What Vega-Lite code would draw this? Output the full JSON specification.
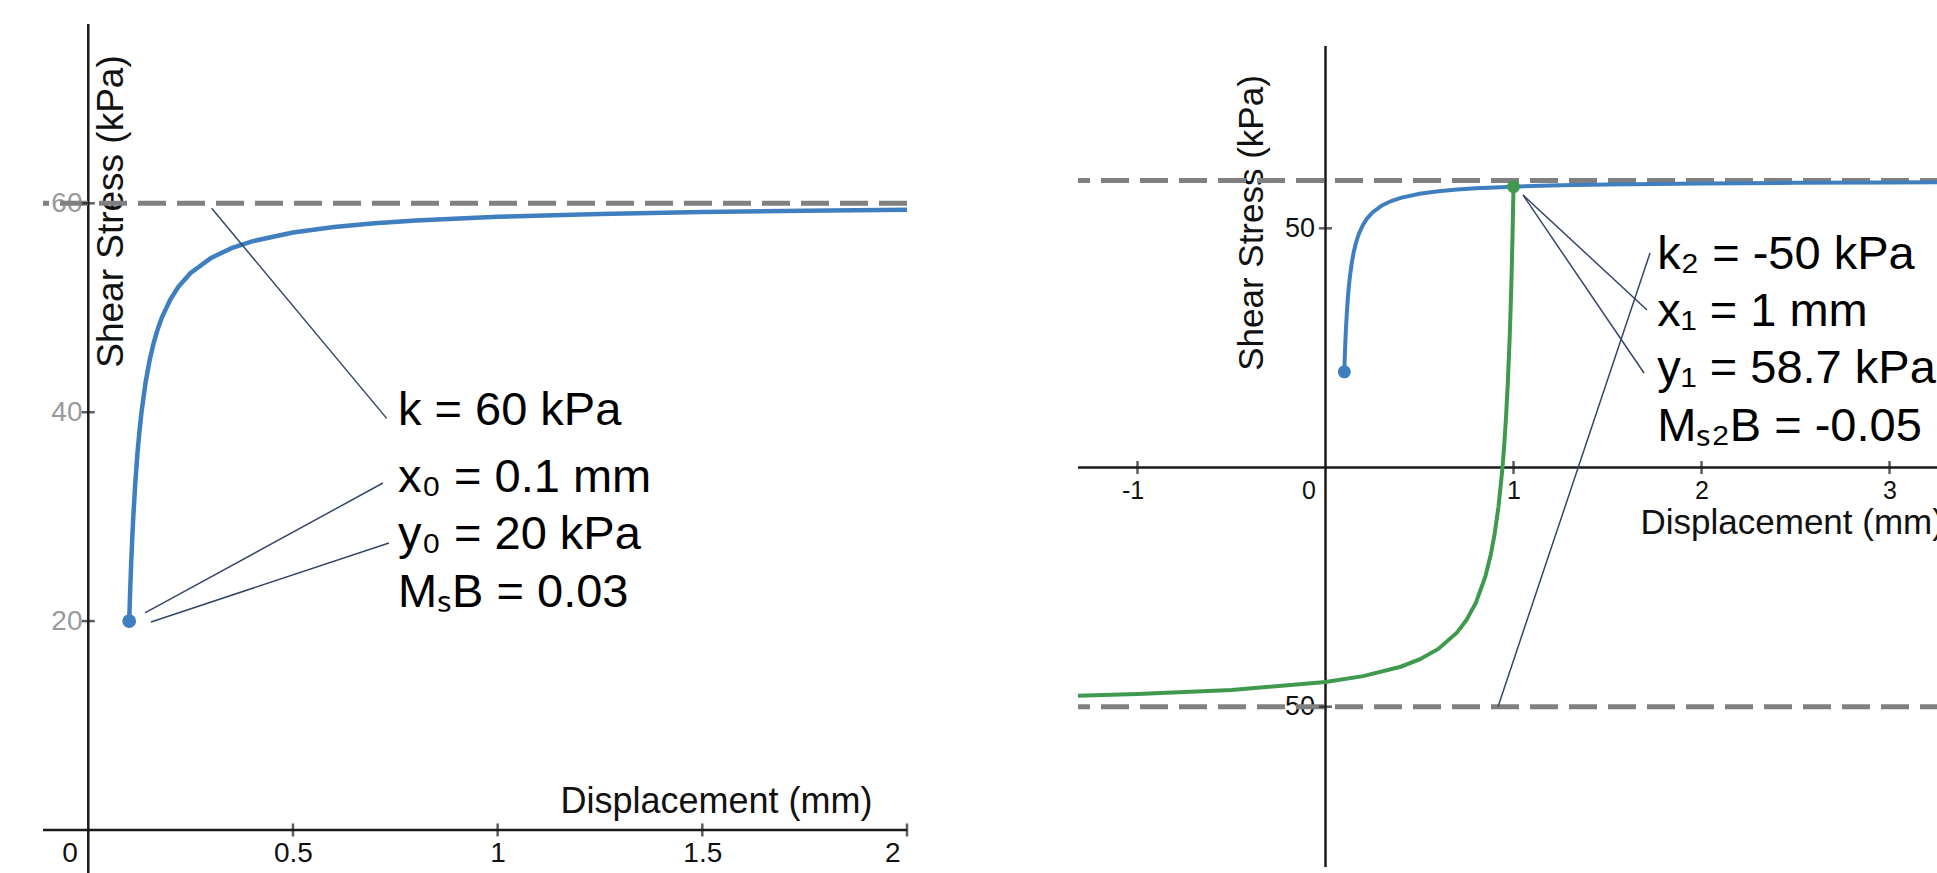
{
  "$schema": "https://vega.github.io/schema/vega-lite/v6.json",
  "background": "white",
  "padding": {"left": 43, "top": 24, "right": 0, "bottom": 0},
  "autosize": {"type": "pad"},
  "spacing": 171,
  "bounds": "flush",
  "config": {
    "view": {"stroke": null},
    "font": "Liberation Sans",
    "axis": {"labelFont": "Liberation Sans", "titleFont": "Liberation Sans", "titleFontWeight": "normal", "grid": false, "domain": false, "ticks": false, "labelOverlap": false, "labelFlush": false, "labelBound": false, "labelExpr": "datum.value + ''"}
  },
  "datasets": {
    "zeroLines": [{"panel": "A", "y": 0}, {"panel": "B", "y": 0}],
    "yAxisLines": [{"panel": "A", "x": 0, "y": -4.12, "y2": 77.17}, {"panel": "B", "x": 0, "y": -83.5, "y2": 88.1}],
    "asymptotes": [{"panel": "A", "y": 60}, {"panel": "B", "y": 60}, {"panel": "B", "y": -50}],
    "tickMarks": [
      {"panel": "A", "dir": "x", "x": 0.5, "y": 0}, {"panel": "A", "dir": "x", "x": 1, "y": 0}, {"panel": "A", "dir": "x", "x": 1.5, "y": 0}, {"panel": "A", "dir": "x", "x": 2, "y": 0},
      {"panel": "A", "dir": "y", "x": 0, "y": 20}, {"panel": "A", "dir": "y", "x": 0, "y": 40}, {"panel": "A", "dir": "y", "x": 0, "y": 60},
      {"panel": "B", "dir": "x", "x": -1, "y": 0}, {"panel": "B", "dir": "x", "x": 1, "y": 0}, {"panel": "B", "dir": "x", "x": 2, "y": 0}, {"panel": "B", "dir": "x", "x": 3, "y": 0},
      {"panel": "B", "dir": "y", "x": 0, "y": 50}, {"panel": "B", "dir": "y", "x": 0, "y": -50}
    ],
    "tau1": [
      {"x": 0.1, "y": 20}, {"x": 0.1025, "y": 23.08}, {"x": 0.105, "y": 25.71}, {"x": 0.1075, "y": 28.0}, {"x": 0.11, "y": 30.0},
      {"x": 0.115, "y": 33.33}, {"x": 0.12, "y": 36.0}, {"x": 0.125, "y": 38.18}, {"x": 0.13, "y": 40.0}, {"x": 0.14, "y": 42.86},
      {"x": 0.15, "y": 45.0}, {"x": 0.16, "y": 46.67}, {"x": 0.17, "y": 48.0}, {"x": 0.18, "y": 49.09}, {"x": 0.2, "y": 50.77},
      {"x": 0.22, "y": 52.0}, {"x": 0.25, "y": 53.33}, {"x": 0.3, "y": 54.78}, {"x": 0.35, "y": 55.71}, {"x": 0.4, "y": 56.36},
      {"x": 0.5, "y": 57.21}, {"x": 0.6, "y": 57.74}, {"x": 0.7, "y": 58.1}, {"x": 0.8, "y": 58.36}, {"x": 1.0, "y": 58.71},
      {"x": 1.25, "y": 58.98}, {"x": 1.5, "y": 59.16}, {"x": 1.75, "y": 59.29}, {"x": 2.0, "y": 59.38}, {"x": 2.5, "y": 59.51},
      {"x": 3.0, "y": 59.59}, {"x": 3.32, "y": 59.63}
    ],
    "tau2": [
      {"x": -1.32, "y": -47.72}, {"x": -1.0, "y": -47.35}, {"x": -0.5, "y": -46.49}, {"x": 0.0, "y": -44.82}, {"x": 0.2, "y": -43.61},
      {"x": 0.4, "y": -41.64}, {"x": 0.5, "y": -40.12}, {"x": 0.6, "y": -37.92}, {"x": 0.7, "y": -34.47}, {"x": 0.75, "y": -31.88},
      {"x": 0.8, "y": -28.26}, {"x": 0.85, "y": -22.82}, {"x": 0.88, "y": -18.03}, {"x": 0.9, "y": -13.77}, {"x": 0.92, "y": -8.19},
      {"x": 0.94, "y": -0.59}, {"x": 0.95, "y": 4.35}, {"x": 0.96, "y": 10.39}, {"x": 0.97, "y": 17.94}, {"x": 0.98, "y": 27.64},
      {"x": 0.985, "y": 33.62}, {"x": 0.99, "y": 40.58}, {"x": 0.995, "y": 48.82}, {"x": 1.0, "y": 58.7}
    ],
    "startPoints": [
      {"panel": "A", "series": "tau1", "x": 0.1, "y": 20},
      {"panel": "B", "series": "tau1", "x": 0.1, "y": 20},
      {"panel": "B", "series": "tau2", "x": 1, "y": 58.7}
    ],
    "leaders": [
      {"panel": "A", "x": 0.3014, "y": 59.52, "x2": 0.7289, "y2": 39.41},
      {"panel": "A", "x": 0.1385, "y": 20.78, "x2": 0.7198, "y2": 33.22},
      {"panel": "A", "x": 0.1532, "y": 19.91, "x2": 0.7345, "y2": 27.48},
      {"panel": "B", "x": 1.0505, "y": 56.96, "x2": 1.7101, "y2": 32.92},
      {"panel": "B", "x": 1.0505, "y": 56.96, "x2": 1.6941, "y2": 19.75},
      {"panel": "B", "x": 1.7261, "y": 44.84, "x2": 0.9176, "y2": -50.0}
    ],
    "notes": [
      {"panel": "A", "x": 0.7565, "y": 38.77, "text": "k = 60 kPa"},
      {"panel": "A", "x": 0.7565, "y": 32.39, "text": "x₀ = 0.1 mm"},
      {"panel": "A", "x": 0.7565, "y": 26.87, "text": "y₀ = 20 kPa"},
      {"panel": "A", "x": 0.7565, "y": 21.38, "text": "MₛB = 0.03"},
      {"panel": "B", "x": 1.765, "y": 41.49, "text": "k₂ = -50 kPa"},
      {"panel": "B", "x": 1.765, "y": 29.64, "text": "x₁ = 1 mm"},
      {"panel": "B", "x": 1.765, "y": 17.6, "text": "y₁ = 58.7 kPa"},
      {"panel": "B", "x": 1.765, "y": 5.6, "text": "Mₛ₂B = -0.05"}
    ]
  },
  "hconcat": [
    {
      "width": 864,
      "height": 849,
      "layer": [
        {
          "data": {"name": "yAxisLines"},
          "transform": [{"filter": "datum.panel == 'A'"}],
          "mark": {"type": "rule", "color": "#1a1a1a", "strokeWidth": 2.5, "clip": true},
          "encoding": {
            "x": {"field": "x", "type": "quantitative", "scale": {"domain": [-0.1106, 2.0], "nice": false, "zero": false},
              "axis": {
                "orient": "bottom", "offset": -43, "title": "Displacement (mm)",
                "values": [0, 0.5, 1, 1.5, 2],
                "labelFontSize": 28, "labelColor": "#111111", "labelPadding": 9,
                "labelAlign": {"condition": {"test": "datum.value == 0 || datum.value == 2", "value": "right"}, "value": "center"},
                "labelOffset": {"condition": [{"test": "datum.value == 0", "value": -11}, {"test": "datum.value == 2", "value": -7}], "value": 0},
                "titleFontSize": 36, "titleColor": "#111111", "titleAngle": 0, "titleX": 673, "titleY": -18, "titleAlign": "center", "titleBaseline": "alphabetic"
              }
            },
            "y": {"field": "y", "type": "quantitative", "scale": {"domain": [-4.12, 77.17], "nice": false, "zero": false},
              "axis": {
                "orient": "left", "offset": -45, "title": "Shear Stress (kPa)",
                "values": [20, 40, 60],
                "labelFontSize": 28, "labelColor": "#9a9a9a", "labelPadding": 6,
                "titleFontSize": 37, "titleColor": "#111111", "titleAngle": 270, "titleX": 34, "titleY": 187, "titleAlign": "center", "titleBaseline": "alphabetic"
              }
            },
            "y2": {"field": "y2"}
          }
        },
        {
          "data": {"name": "asymptotes"},
          "transform": [{"filter": "datum.panel == 'A'"}],
          "mark": {"type": "rule", "color": "#808080", "strokeWidth": 5, "strokeDash": [28, 11], "clip": true},
          "encoding": {
            "y": {"field": "y", "type": "quantitative", "scale": {"domain": [-4.12, 77.17], "nice": false, "zero": false}}
          }
        },
        {
          "data": {"name": "zeroLines"},
          "transform": [{"filter": "datum.panel == 'A'"}],
          "mark": {"type": "rule", "color": "#1a1a1a", "strokeWidth": 2.5, "clip": true},
          "encoding": {
            "y": {"field": "y", "type": "quantitative", "scale": {"domain": [-4.12, 77.17], "nice": false, "zero": false}}
          }
        },
        {
          "data": {"name": "tickMarks"},
          "transform": [{"filter": "datum.panel == 'A' && datum.dir == 'x'"}],
          "mark": {"type": "tick", "orient": "vertical", "color": "#1a1a1a", "size": 13, "thickness": 2.5},
          "encoding": {
            "x": {"field": "x", "type": "quantitative", "scale": {"domain": [-0.1106, 2.0], "nice": false, "zero": false}},
            "y": {"field": "y", "type": "quantitative", "scale": {"domain": [-4.12, 77.17], "nice": false, "zero": false}}
          }
        },
        {
          "data": {"name": "tickMarks"},
          "transform": [{"filter": "datum.panel == 'A' && datum.dir == 'y'"}],
          "mark": {"type": "tick", "orient": "horizontal", "color": "#1a1a1a", "size": 13, "thickness": 2.5},
          "encoding": {
            "x": {"field": "x", "type": "quantitative", "scale": {"domain": [-0.1106, 2.0], "nice": false, "zero": false}},
            "y": {"field": "y", "type": "quantitative", "scale": {"domain": [-4.12, 77.17], "nice": false, "zero": false}}
          }
        },
        {
          "data": {"name": "tau1"},
          "transform": [{"filter": "datum.x <= 2"}],
          "mark": {"type": "line", "color": "#3f7fc0", "strokeWidth": 4.5, "clip": true},
          "encoding": {
            "x": {"field": "x", "type": "quantitative", "scale": {"domain": [-0.1106, 2.0], "nice": false, "zero": false}},
            "y": {"field": "y", "type": "quantitative", "scale": {"domain": [-4.12, 77.17], "nice": false, "zero": false}}
          }
        },
        {
          "data": {"name": "startPoints"},
          "transform": [{"filter": "datum.panel == 'A'"}],
          "mark": {"type": "point", "filled": true, "opacity": 1, "size": 190},
          "encoding": {
            "x": {"field": "x", "type": "quantitative", "scale": {"domain": [-0.1106, 2.0], "nice": false, "zero": false}},
            "y": {"field": "y", "type": "quantitative", "scale": {"domain": [-4.12, 77.17], "nice": false, "zero": false}},
            "color": {"field": "series", "type": "nominal", "scale": {"domain": ["tau1", "tau2"], "range": ["#3f7fc0", "#3f9a4f"]}, "legend": null}
          }
        },
        {
          "data": {"name": "leaders"},
          "transform": [{"filter": "datum.panel == 'A'"}],
          "mark": {"type": "rule", "color": "#34466a", "strokeWidth": 1.5},
          "encoding": {
            "x": {"field": "x", "type": "quantitative", "scale": {"domain": [-0.1106, 2.0], "nice": false, "zero": false}},
            "y": {"field": "y", "type": "quantitative", "scale": {"domain": [-4.12, 77.17], "nice": false, "zero": false}},
            "x2": {"field": "x2"},
            "y2": {"field": "y2"}
          }
        },
        {
          "data": {"name": "notes"},
          "transform": [{"filter": "datum.panel == 'A'"}],
          "mark": {"type": "text", "font": "Liberation Sans", "fontSize": 47, "align": "left", "baseline": "alphabetic", "color": "#000000"},
          "encoding": {
            "x": {"field": "x", "type": "quantitative", "scale": {"domain": [-0.1106, 2.0], "nice": false, "zero": false}},
            "y": {"field": "y", "type": "quantitative", "scale": {"domain": [-4.12, 77.17], "nice": false, "zero": false}},
            "text": {"field": "text"}
          }
        }
      ]
    },
    {
      "width": 870,
      "height": 849,
      "layer": [
        {
          "data": {"name": "yAxisLines"},
          "transform": [{"filter": "datum.panel == 'B'"}],
          "mark": {"type": "rule", "color": "#1a1a1a", "strokeWidth": 2.5, "clip": true},
          "encoding": {
            "x": {"field": "x", "type": "quantitative", "scale": {"domain": [-1.3165, 3.311], "nice": false, "zero": false},
              "axis": {
                "orient": "bottom", "offset": -405.5, "title": "Displacement (mm)",
                "values": [-1, 0, 1, 2, 3],
                "labelFontSize": 25, "labelColor": "#111111", "labelPadding": 11,
                "labelAlign": {"condition": {"test": "datum.value == 0", "value": "right"}, "value": "center"},
                "labelOffset": {"condition": [{"test": "datum.value == 0", "value": -10}, {"test": "datum.value == -1", "value": -5}], "value": 0},
                "titleFontSize": 35, "titleColor": "#111111", "titleAngle": 0, "titleX": 562, "titleY": 66, "titleAlign": "left", "titleBaseline": "alphabetic"
              }
            },
            "y": {"field": "y", "type": "quantitative", "scale": {"domain": [-84.76, 92.71], "nice": false, "zero": false},
              "axis": {
                "orient": "left", "offset": -247.5, "title": "Shear Stress (kPa)",
                "values": [-50, 50],
                "labelFontSize": 27, "labelColor": "#111111", "labelPadding": 11,
                "titleFontSize": 35, "titleColor": "#111111", "titleAngle": 270, "titleX": -63.5, "titleY": 198.5, "titleAlign": "center", "titleBaseline": "alphabetic"
              }
            },
            "y2": {"field": "y2"}
          }
        },
        {
          "data": {"name": "asymptotes"},
          "transform": [{"filter": "datum.panel == 'B'"}],
          "mark": {"type": "rule", "color": "#808080", "strokeWidth": 5, "strokeDash": [28, 11], "clip": true},
          "encoding": {
            "y": {"field": "y", "type": "quantitative", "scale": {"domain": [-84.76, 92.71], "nice": false, "zero": false}}
          }
        },
        {
          "data": {"name": "zeroLines"},
          "transform": [{"filter": "datum.panel == 'B'"}],
          "mark": {"type": "rule", "color": "#1a1a1a", "strokeWidth": 2.5, "clip": true},
          "encoding": {
            "y": {"field": "y", "type": "quantitative", "scale": {"domain": [-84.76, 92.71], "nice": false, "zero": false}}
          }
        },
        {
          "data": {"name": "tickMarks"},
          "transform": [{"filter": "datum.panel == 'B' && datum.dir == 'x'"}],
          "mark": {"type": "tick", "orient": "vertical", "color": "#1a1a1a", "size": 13, "thickness": 2.5},
          "encoding": {
            "x": {"field": "x", "type": "quantitative", "scale": {"domain": [-1.3165, 3.311], "nice": false, "zero": false}},
            "y": {"field": "y", "type": "quantitative", "scale": {"domain": [-84.76, 92.71], "nice": false, "zero": false}}
          }
        },
        {
          "data": {"name": "tickMarks"},
          "transform": [{"filter": "datum.panel == 'B' && datum.dir == 'y'"}],
          "mark": {"type": "tick", "orient": "horizontal", "color": "#1a1a1a", "size": 13, "thickness": 2.5},
          "encoding": {
            "x": {"field": "x", "type": "quantitative", "scale": {"domain": [-1.3165, 3.311], "nice": false, "zero": false}},
            "y": {"field": "y", "type": "quantitative", "scale": {"domain": [-84.76, 92.71], "nice": false, "zero": false}}
          }
        },
        {
          "data": {"name": "tau1"},
          "mark": {"type": "line", "color": "#3f7fc0", "strokeWidth": 4, "clip": true},
          "encoding": {
            "x": {"field": "x", "type": "quantitative", "scale": {"domain": [-1.3165, 3.311], "nice": false, "zero": false}},
            "y": {"field": "y", "type": "quantitative", "scale": {"domain": [-84.76, 92.71], "nice": false, "zero": false}}
          }
        },
        {
          "data": {"name": "tau2"},
          "mark": {"type": "line", "color": "#3f9a4f", "strokeWidth": 4, "clip": true},
          "encoding": {
            "x": {"field": "x", "type": "quantitative", "scale": {"domain": [-1.3165, 3.311], "nice": false, "zero": false}},
            "y": {"field": "y", "type": "quantitative", "scale": {"domain": [-84.76, 92.71], "nice": false, "zero": false}}
          }
        },
        {
          "data": {"name": "startPoints"},
          "transform": [{"filter": "datum.panel == 'B'"}],
          "mark": {"type": "point", "filled": true, "opacity": 1, "size": 170},
          "encoding": {
            "x": {"field": "x", "type": "quantitative", "scale": {"domain": [-1.3165, 3.311], "nice": false, "zero": false}},
            "y": {"field": "y", "type": "quantitative", "scale": {"domain": [-84.76, 92.71], "nice": false, "zero": false}},
            "color": {"field": "series", "type": "nominal", "scale": {"domain": ["tau1", "tau2"], "range": ["#3f7fc0", "#3f9a4f"]}, "legend": null}
          }
        },
        {
          "data": {"name": "leaders"},
          "transform": [{"filter": "datum.panel == 'B'"}],
          "mark": {"type": "rule", "color": "#34466a", "strokeWidth": 1.5},
          "encoding": {
            "x": {"field": "x", "type": "quantitative", "scale": {"domain": [-1.3165, 3.311], "nice": false, "zero": false}},
            "y": {"field": "y", "type": "quantitative", "scale": {"domain": [-84.76, 92.71], "nice": false, "zero": false}},
            "x2": {"field": "x2"},
            "y2": {"field": "y2"}
          }
        },
        {
          "data": {"name": "notes"},
          "transform": [{"filter": "datum.panel == 'B'"}],
          "mark": {"type": "text", "font": "Liberation Sans", "fontSize": 47, "align": "left", "baseline": "alphabetic", "color": "#000000"},
          "encoding": {
            "x": {"field": "x", "type": "quantitative", "scale": {"domain": [-1.3165, 3.311], "nice": false, "zero": false}},
            "y": {"field": "y", "type": "quantitative", "scale": {"domain": [-84.76, 92.71], "nice": false, "zero": false}},
            "text": {"field": "text"}
          }
        }
      ]
    }
  ]
}
